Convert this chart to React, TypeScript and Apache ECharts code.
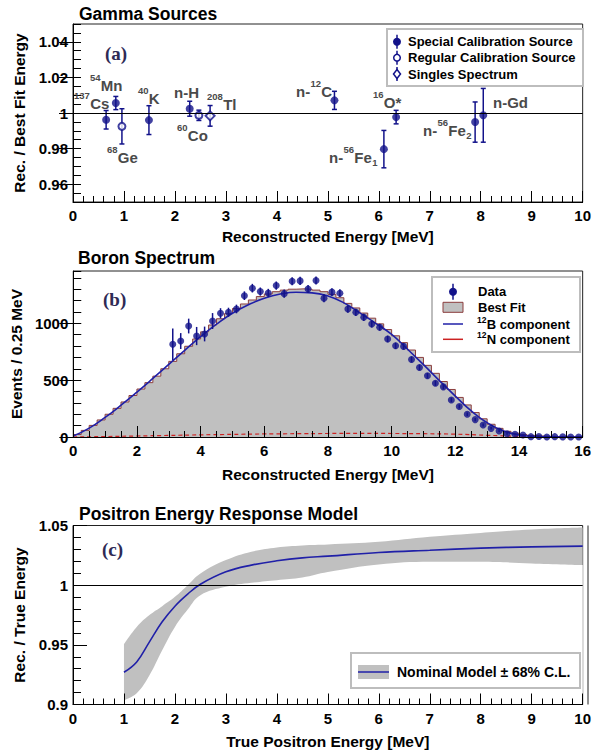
import React, { useEffect, useRef } from 'react';
import * as echarts from 'echarts';

// ---------------- Panel (a): Gamma sources ----------------
const specialEnergy = [0.65, 0.84, 1.49, 2.29, 5.13, 6.10, 6.34, 7.89, 8.05];
const specialRatio = [0.9962, 1.0056, 0.9960, 1.0024, 1.0071, 0.9797, 0.9977, 0.9949, 0.9987];
const specialError = [0.0052, 0.0037, 0.0081, 0.0042, 0.0051, 0.0105, 0.0038, 0.0113, 0.0151];
const regularEnergy = [0.96, 2.47];
const regularRatio = [0.9925, 0.9987];
const regularError = [0.0099, 0.0029];
const singlesEnergy = [2.69];
const singlesRatio = [0.9984];
const singlesError = [0.0058];

type Part = [string, 'n' | 'sup' | 'sub'];
const gammaLabelParts: Part[][] = [
  [['137', 'sup'], ['Cs', 'n']],
  [['54', 'sup'], ['Mn', 'n']],
  [['40', 'sup'], ['K', 'n']],
  [['n-H', 'n']],
  [['208', 'sup'], ['Tl', 'n']],
  [['60', 'sup'], ['Co', 'n']],
  [['68', 'sup'], ['Ge', 'n']],
  [['n-', 'n'], ['12', 'sup'], ['C', 'n']],
  [['16', 'sup'], ['O*', 'n']],
  [['n-', 'n'], ['56', 'sup'], ['Fe', 'n'], ['1', 'sub']],
  [['n-', 'n'], ['56', 'sup'], ['Fe', 'n'], ['2', 'sub']],
  [['n-Gd', 'n']],
];
const legendATexts = ['Special Calibration Source', 'Regular Calibration Source', 'Singles Spectrum'];

// ---------------- Panel (b): Boron spectrum ----------------
const binWidth = 0.25;
const bestFitCounts = [
  22, 58, 102, 150, 200, 252, 308, 365, 422, 478,
  535, 600, 665, 732, 798, 862, 925, 985, 1040, 1085,
  1130, 1170, 1205, 1235, 1258, 1278, 1292, 1300, 1303, 1300,
  1292, 1278, 1255, 1225, 1175, 1135, 1090, 1045, 995, 945,
  890, 830, 765, 700, 630, 560, 488, 418, 348, 282,
  215, 160, 112, 76, 50, 33, 22, 14, 9, 6,
  4, 3, 2, 1,
];
const dataFirstBin = 12;
const dataCounts = [
  815, 844, 976, 888, 906, 1020, 1088, 1097, 1126, 1243,
  1309, 1279, 1267, 1332, 1261, 1370, 1373, 1302, 1376, 1221,
  1274, 1265, 1126, 1097, 1053, 994, 965, 862, 802, 797,
  682, 612, 538, 473, 441, 326, 268, 200, 153, 106,
  76, 53, 29, 24, 18, 3, 5, 0, 3, 1,
  0, 0,
];
const dataErrors = [
  140, 70, 65, 80, 65, 70, 45, 40, 38, 38,
  38, 36, 36, 36, 36, 36, 36, 35, 35, 35,
  34, 34, 33, 32, 32, 31, 30, 29, 28, 28,
  26, 25, 24, 23, 22, 20, 18, 16, 15, 13,
  11, 10, 9, 8, 7, 6, 6, 5, 5, 5,
  5, 5,
];
const b12Energy = [0, 0.5, 1, 1.5, 2, 2.5, 3, 3.5, 4, 4.5, 5, 5.5, 6, 6.5, 7, 7.5, 8, 8.5, 9, 9.5, 10, 10.5, 11, 11.5, 12, 12.5, 13, 13.5, 14, 14.5, 15, 15.5, 16];
const b12Counts = [8, 78, 172, 280, 395, 515, 638, 762, 882, 992, 1088, 1163, 1220, 1257, 1273, 1268, 1240, 1180, 1092, 1000, 902, 772, 636, 496, 360, 230, 125, 55, 18, 5, 1, 0, 0];
const n12Energy = [0, 1, 2, 3, 4, 5, 6, 7, 8, 9, 10, 11, 12, 13, 14, 15, 16];
const n12Counts = [0, 4, 9, 14, 19, 23, 27, 29, 31, 32, 31, 29, 25, 15, 6, 2, 0];

// ---------------- Panel (c): Positron response ----------------
const posEnergy = [1, 1.25, 1.5, 1.75, 2, 2.25, 2.5, 3, 3.5, 4, 4.5, 5, 6, 7, 8, 9, 10];
const posNominal = [0.927, 0.9357, 0.9525, 0.9693, 0.9824, 0.9925, 1.0008, 1.0112, 1.0168, 1.0204, 1.0229, 1.0243, 1.0274, 1.0293, 1.031, 1.0321, 1.0327];
const posUpper = [0.9506, 0.965, 0.9749, 0.9824, 0.9902, 1.0, 1.0098, 1.021, 1.028, 1.0316, 1.0333, 1.0341, 1.0363, 1.0405, 1.0438, 1.0467, 1.0483];
const posLower = [0.9036, 0.9095, 0.9246, 0.9455, 0.965, 0.9796, 0.9916, 0.9986, 1.002, 1.0042, 1.0064, 1.011, 1.0173, 1.0196, 1.0196, 1.0182, 1.0168];

// ---------------- Layout / style ----------------
const FONT = '"Liberation Sans", Arial, Helvetica, sans-serif';
const SERIF = '"Liberation Serif", "DejaVu Serif", serif';
const NAVY = '#12128a';
const LABEL_GRAY = '#4a4a4a';
const gammaLabelAnchor = [
  [74, 103], [90, 85], [138, 98], [174, 92], [207, 104], [177, 135], [107, 157],
  [296, 91], [373, 102], [329, 157], [423, 130], [493, 102],
];

function measure(text: string, size: number) {
  const c = document.createElement('canvas').getContext('2d')!;
  c.font = `bold ${size}px ${FONT}`;
  return c.measureText(text).width;
}

function txt(text: string, x: number, y: number, size: number, opts: any = {}) {
  return {
    type: 'text', x, y, z: 100,
    style: {
      text, fontSize: size, fontWeight: opts.weight ?? 'bold', fontFamily: opts.family ?? FONT,
      fill: opts.fill ?? '#000', align: opts.align ?? 'left', verticalAlign: 'middle',
    },
  };
}

function partsText(parts: Part[], x0: number, yc: number, main: number, small: number, supShift: number, subShift: number, fill: string) {
  const out: any[] = [];
  let x = x0;
  for (const [t, k] of parts) {
    const size = k === 'n' ? main : small;
    const y = k === 'sup' ? yc - supShift : k === 'sub' ? yc + subShift : yc;
    out.push(txt(t, x, y, size, { fill }));
    x += measure(t, size) + 0.3;
  }
  return out;
}

const errRender = (cap: number, color: string, width: number) => (params: any, api: any) => {
  const x = api.value(0), y = api.value(1), e = api.value(2);
  const p1 = api.coord([x, y + e]);
  const p2 = api.coord([x, y - e]);
  const st = { stroke: color, lineWidth: width };
  const children: any[] = [{ type: 'line', shape: { x1: p1[0], y1: p1[1], x2: p2[0], y2: p2[1] }, style: st }];
  if (cap > 0) {
    children.push({ type: 'line', shape: { x1: p1[0] - cap, y1: p1[1], x2: p1[0] + cap, y2: p1[1] }, style: st });
    children.push({ type: 'line', shape: { x1: p2[0] - cap, y1: p2[1], x2: p2[0] + cap, y2: p2[1] }, style: st });
  }
  return { type: 'group', children };
};

const labelStyle = { fontSize: 15, fontWeight: 'bold', fontFamily: FONT, color: '#000' };
const nameStyle = { fontSize: 15.5, fontWeight: 'bold', fontFamily: FONT, color: '#000' };

function xAxis(gridIndex: number, max: number, interval: number, minorSplit: number, name: string, nameGap: number) {
  return {
    type: 'value', gridIndex, min: 0, max, interval, z: 10,
    axisLine: { onZero: false, lineStyle: { color: '#000', width: 1 } },
    axisTick: { inside: true, length: 11, lineStyle: { color: '#000' } },
    minorTick: { show: true, splitNumber: minorSplit, length: 6, lineStyle: { color: '#000' } },
    splitLine: { show: false },
    axisLabel: { margin: 6, ...labelStyle },
    name, nameLocation: 'middle', nameGap, nameTextStyle: nameStyle,
  };
}

function yFine(gridIndex: number, min: number, max: number, interval: number, fmt: (v: number) => string, name: string, nameGap: number) {
  return {
    type: 'value', gridIndex, min, max, interval, z: 10,
    axisLine: { onZero: false, lineStyle: { color: '#000', width: 1 } },
    axisTick: { inside: true, length: 8, lineStyle: { color: '#000' } },
    splitLine: { show: false },
    axisLabel: { margin: 5, ...labelStyle, formatter: fmt },
    name, nameLocation: 'middle', nameGap, nameTextStyle: nameStyle,
  };
}

function yMajor(gridIndex: number, min: number, max: number, values: number[]) {
  return {
    type: 'value', gridIndex, min, max, z: 10,
    axisLine: { show: false },
    axisTick: { show: true, inside: true, length: 14, customValues: values, lineStyle: { color: '#000' } },
    axisLabel: { show: false },
    splitLine: { show: false },
  };
}

function buildOption() {
  const gridStyle = { show: true, borderColor: '#222', borderWidth: 1, containLabel: false };
  const grids = [
    { left: 73, top: 24, width: 515, height: 178, ...gridStyle },
    { left: 73, top: 271, width: 515, height: 166, ...gridStyle },
    { left: 73, top: 525.5, width: 515, height: 179, ...gridStyle },
  ];

  const aLabels: Record<number, string> = { 960: '0.96', 980: '0.98', 1000: '1', 1020: '1.02', 1040: '1.04' };
  const fmtA = (v: number) => aLabels[Math.round(v * 1000)] ?? '';
  const fmtB = (v: number) => (v === 0 || v === 500 || v === 1000 ? String(v) : '');

  const special = specialEnergy.map((x, i) => [x, specialRatio[i], specialError[i]]);
  const regular = regularEnergy.map((x, i) => [x, regularRatio[i], regularError[i]]);
  const singles = singlesEnergy.map((x, i) => [x, singlesRatio[i], singlesError[i]]);

  const histPts = bestFitCounts.map((v, i) => [i * binWidth, v]);
  histPts.push([bestFitCounts.length * binWidth, bestFitCounts[bestFitCounts.length - 1]]);
  const dataPts = dataCounts.map((v, i) => [(dataFirstBin + i + 0.5) * binWidth, v, dataErrors[i]]);

  const hLine = {
    silent: true, symbol: ['none', 'none'], label: { show: false },
    lineStyle: { color: '#000', width: 1.2, type: 'solid' }, data: [{ yAxis: 1 }], z: 10,
  };

  const series: any[] = [
    // ---- panel a
    { type: 'custom', xAxisIndex: 0, yAxisIndex: 0, renderItem: errRender(2.5, NAVY, 1.5), data: special, z: 4, encode: { x: 0, y: 1 } },
    { type: 'custom', xAxisIndex: 0, yAxisIndex: 0, renderItem: errRender(2.5, NAVY, 1.5), data: regular, z: 4, encode: { x: 0, y: 1 } },
    { type: 'custom', xAxisIndex: 0, yAxisIndex: 0, renderItem: errRender(2.5, NAVY, 1.5), data: singles, z: 4, encode: { x: 0, y: 1 } },
    { type: 'scatter', xAxisIndex: 0, yAxisIndex: 0, symbol: 'circle', symbolSize: 8, itemStyle: { color: NAVY }, data: special.map(d => [d[0], d[1]]), z: 5, markLine: hLine },
    { type: 'scatter', xAxisIndex: 0, yAxisIndex: 0, symbol: 'emptyCircle', symbolSize: 7, itemStyle: { color: NAVY, borderWidth: 1.5 }, data: regular.map(d => [d[0], d[1]]), z: 5 },
    { type: 'scatter', xAxisIndex: 0, yAxisIndex: 0, symbol: 'emptyDiamond', symbolSize: 9, itemStyle: { color: NAVY, borderWidth: 1.5 }, data: singles.map(d => [d[0], d[1]]), z: 5 },
    // ---- panel b
    { type: 'line', xAxisIndex: 1, yAxisIndex: 2, step: 'end', symbol: 'none', data: histPts, lineStyle: { color: '#8b3d3d', width: 1 }, areaStyle: { color: '#c0c0c0', opacity: 1, origin: 'start' }, z: 1 },
    { type: 'line', xAxisIndex: 1, yAxisIndex: 2, smooth: true, symbol: 'none', data: n12Energy.map((x, i) => [x, n12Counts[i]]), lineStyle: { color: '#cc2222', width: 1.2, type: [4, 3] }, z: 2 },
    { type: 'line', xAxisIndex: 1, yAxisIndex: 2, smooth: true, symbol: 'none', data: b12Energy.map((x, i) => [x, b12Counts[i]]), lineStyle: { color: '#2020a8', width: 1.6 }, z: 3 },
    { type: 'custom', xAxisIndex: 1, yAxisIndex: 2, renderItem: errRender(0, NAVY, 1.5), data: dataPts, z: 4, encode: { x: 0, y: 1 } },
    { type: 'scatter', xAxisIndex: 1, yAxisIndex: 2, symbol: 'circle', symbolSize: 7, itemStyle: { color: NAVY }, data: dataPts.map(d => [d[0], d[1]]), z: 5 },
    // ---- panel c: band = gray area under upper edge, masked in white under lower edge
    { type: 'line', xAxisIndex: 2, yAxisIndex: 4, smooth: 0.4, symbol: 'none', data: posEnergy.map((x, i) => [x, posUpper[i]]), lineStyle: { width: 0, opacity: 0 }, areaStyle: { color: '#c0c0c0', opacity: 1, origin: 'start' }, z: 1 },
    { type: 'line', xAxisIndex: 2, yAxisIndex: 4, smooth: 0.4, symbol: 'none', data: posEnergy.map((x, i) => [x, posLower[i]]), lineStyle: { width: 0, opacity: 0 }, areaStyle: { color: '#ffffff', opacity: 1, origin: 'start' }, z: 2 },
    { type: 'line', xAxisIndex: 2, yAxisIndex: 4, smooth: 0.4, symbol: 'none', data: posEnergy.map((x, i) => [x, posNominal[i]]), lineStyle: { color: '#2020a8', width: 1.6 }, z: 3, markLine: hLine },
  ];

  // ---- graphics: titles, panel tags, annotations, legends
  const g: any[] = [];
  g.push(txt('Gamma Sources', 79, 14, 17.5));
  g.push(txt('Boron Spectrum', 78, 258, 17.5));
  g.push(txt('Positron Energy Response Model', 79, 514, 17.5));
  const tagFill = '#2e2a55';
  g.push(txt('(a)', 105, 53, 19, { family: SERIF, fill: tagFill }));
  g.push(txt('(b)', 103, 299, 19, { family: SERIF, fill: tagFill }));
  g.push(txt('(c)', 102, 549, 19, { family: SERIF, fill: tagFill }));
  // right frame edge of panel c, kept above the band fill
  g.push({ type: 'line', z: 99, shape: { x1: 588, y1: 525.5, x2: 588, y2: 704.5 }, style: { stroke: '#222', lineWidth: 1 } });

  gammaLabelParts.forEach((parts, i) => {
    const [x, y] = gammaLabelAnchor[i];
    g.push(...partsText(parts, x, y, 15, 9.5, 7.5, 5.5, LABEL_GRAY));
  });

  // legend (a)
  g.push({ type: 'rect', z: 90, shape: { x: 387, y: 29, width: 196, height: 57 }, style: { fill: '#fff', stroke: '#bdbdbd', lineWidth: 2 } });
  const la = [41.7, 57.7, 74];
  g.push({ type: 'line', z: 95, shape: { x1: 397, y1: la[0] - 7, x2: 397, y2: la[0] + 7 }, style: { stroke: NAVY, lineWidth: 1.5 } });
  g.push({ type: 'circle', z: 96, shape: { cx: 397, cy: la[0], r: 4 }, style: { fill: NAVY } });
  g.push({ type: 'line', z: 95, shape: { x1: 397, y1: la[1] - 7, x2: 397, y2: la[1] + 7 }, style: { stroke: NAVY, lineWidth: 1.5 } });
  g.push({ type: 'circle', z: 96, shape: { cx: 397, cy: la[1], r: 3.3 }, style: { fill: '#fff', stroke: NAVY, lineWidth: 1.5 } });
  g.push({ type: 'line', z: 95, shape: { x1: 397, y1: la[2] - 7, x2: 397, y2: la[2] + 7 }, style: { stroke: NAVY, lineWidth: 1.5 } });
  g.push({ type: 'polygon', z: 96, shape: { points: [[397, la[2] - 4.5], [400.5, la[2]], [397, la[2] + 4.5], [393.5, la[2]]] }, style: { fill: '#fff', stroke: NAVY, lineWidth: 1.5 } });
  legendATexts.forEach((t, i) => g.push(txt(t, 408, la[i], 13)));

  // legend (b)
  g.push({ type: 'rect', z: 90, shape: { x: 432, y: 277, width: 148, height: 75 }, style: { fill: '#fff', stroke: '#bdbdbd', lineWidth: 2 } });
  const lb = [291.7, 307.3, 324, 339.3];
  g.push({ type: 'line', z: 95, shape: { x1: 453, y1: lb[0] - 8, x2: 453, y2: lb[0] + 8 }, style: { stroke: NAVY, lineWidth: 1.5 } });
  g.push({ type: 'circle', z: 96, shape: { cx: 453, cy: lb[0], r: 4 }, style: { fill: NAVY } });
  g.push({ type: 'rect', z: 95, shape: { x: 443, y: lb[1] - 5, width: 20, height: 10 }, style: { fill: '#c0c0c0', stroke: '#8b3d3d', lineWidth: 1 } });
  g.push({ type: 'line', z: 95, shape: { x1: 443, y1: lb[2], x2: 463, y2: lb[2] }, style: { stroke: '#2020a8', lineWidth: 1.5 } });
  g.push({ type: 'line', z: 95, shape: { x1: 443, y1: lb[3], x2: 463, y2: lb[3] }, style: { stroke: '#cc2222', lineWidth: 1.5 } });
  g.push(txt('Data', 478, lb[0], 13));
  g.push(txt('Best Fit', 478, lb[1], 13));
  g.push(...partsText([['12', 'sup'], ['B component', 'n']], 477, lb[2], 13, 8.5, 4.5, 0, '#000'));
  g.push(...partsText([['12', 'sup'], ['N component', 'n']], 477, lb[3], 13, 8.5, 4.5, 0, '#000'));

  // legend (c)
  g.push({ type: 'rect', z: 90, shape: { x: 351, y: 653, width: 229, height: 35 }, style: { fill: '#fff', stroke: '#bdbdbd', lineWidth: 2 } });
  g.push({ type: 'rect', z: 95, shape: { x: 358, y: 665, width: 31, height: 14 }, style: { fill: '#c0c0c0' } });
  g.push({ type: 'line', z: 96, shape: { x1: 358, y1: 672, x2: 389, y2: 672 }, style: { stroke: '#2020a8', lineWidth: 1.5 } });
  g.push(txt('Nominal Model \u00b1 68% C.L.', 397, 671.5, 14));

  return {
    animation: false,
    backgroundColor: '#fff',
    grid: grids,
    xAxis: [
      xAxis(0, 10, 1, 5, 'Reconstructed Energy [MeV]', 26),
      xAxis(1, 16, 2, 4, 'Reconstructed Energy [MeV]', 29),
      xAxis(2, 10, 1, 5, 'True Positron Energy [MeV]', 29),
    ],
    yAxis: [
      yFine(0, 0.95, 1.05, 0.005, fmtA, 'Rec. / Best Fit Energy', 45),
      yMajor(0, 0.95, 1.05, [0.96, 0.98, 1, 1.02, 1.04]),
      yFine(1, 0, 1460, 100, fmtB, 'Events / 0.25 MeV', 45),
      yMajor(1, 0, 1460, [0, 500, 1000]),
      {
        type: 'value', gridIndex: 2, min: 0.9, max: 1.05, interval: 0.05, z: 10,
        axisLine: { onZero: false, lineStyle: { color: '#000', width: 1 } },
        axisTick: { inside: true, length: 14, lineStyle: { color: '#000' } },
        minorTick: { show: true, splitNumber: 5, length: 8, lineStyle: { color: '#000' } },
        splitLine: { show: false },
        axisLabel: { margin: 5, ...labelStyle },
        name: 'Rec. / True Energy', nameLocation: 'middle', nameGap: 45, nameTextStyle: nameStyle,
      },
    ],
    series,
    graphic: { elements: g },
  };
}

export default function App() {
  const ref = useRef<HTMLDivElement>(null);
  useEffect(() => {
    const chart = echarts.init(ref.current!, null, { renderer: 'svg' });
    chart.setOption(buildOption() as any);
    return () => chart.dispose();
  }, []);
  return <div ref={ref} style={{ position: 'absolute', left: 0, top: 0, width: 594, height: 753 }} />;
}
